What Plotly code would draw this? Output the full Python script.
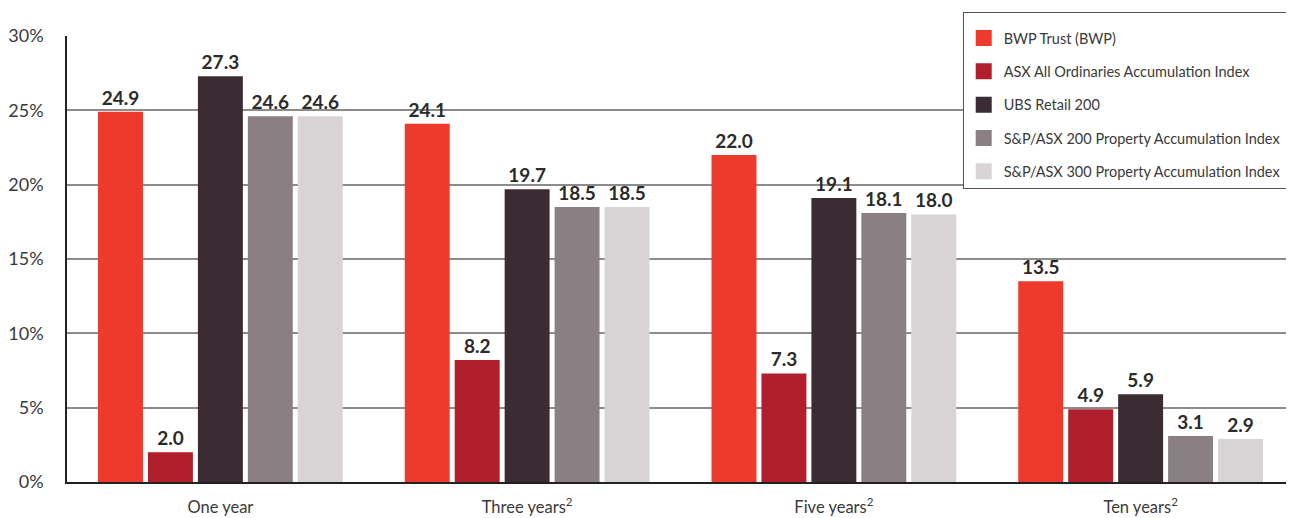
import plotly.graph_objects as go

categories = ["One year", "Three years<sup>2</sup>", "Five years<sup>2</sup>", "Ten years<sup>2</sup>"]
series_names = [
    "BWP Trust (BWP)",
    "ASX All Ordinaries Accumulation Index",
    "UBS Retail 200",
    "S&P/ASX 200 Property Accumulation Index",
    "S&P/ASX 300 Property Accumulation Index",
]
bwp = [24.9, 24.1, 22.0, 13.5]
asx_all_ords = [2.0, 8.2, 7.3, 4.9]
ubs_retail = [27.3, 19.7, 19.1, 5.9]
sp_asx200_prop = [24.6, 18.5, 18.1, 3.1]
sp_asx300_prop = [24.6, 18.5, 18.0, 2.9]
colors = ["#EE3A2C", "#B01F2B", "#3B2B32", "#8A7F82", "#D8D4D5"]
y_ticks = [0, 5, 10, 15, 20, 25, 30]

all_series = [bwp, asx_all_ords, ubs_retail, sp_asx200_prop, sp_asx300_prop]

FONT = "Lato"
fig = go.Figure()
for i, (name, vals, col) in enumerate(zip(series_names, all_series, colors)):
    fig.add_trace(go.Bar(
        x=categories, y=vals, name=name, marker=dict(color=col, line=dict(width=0)),
        text=[f"{v:.1f}" for v in vals], textposition="outside",
        textfont=dict(family=FONT, size=19, color="#2b2b2b", weight="bold"),
        cliponaxis=False, showlegend=False, legendgroup=f"g{i}",
    ))
for i, (name, col) in enumerate(zip(series_names, colors)):
    fig.add_trace(go.Scatter(
        x=[None], y=[None], mode="markers", name=name, legendgroup=f"g{i}",
        marker=dict(symbol="square", size=18, color=col), showlegend=True,
    ))

fig.update_layout(
    width=1286, height=510,
    margin=dict(l=59, r=0, t=28, b=36, autoexpand=False),
    paper_bgcolor="white", plot_bgcolor="white",
    barmode="group", bargap=0.186, bargroupgap=0.1,
    font=dict(family=FONT, color="#3a3a3a"),
    legend=dict(
        x=0.730, y=1.054, xanchor="left", yanchor="top",
        bgcolor="white", bordercolor="#555555", borderwidth=1,
        font=dict(family=FONT, size=14.5, color="#3a3a3a"),
        title=dict(text="\u00a0", font=dict(size=7)),
        traceorder="grouped", tracegroupgap=11.5, itemsizing="trace",
    ),
    xaxis=dict(
        automargin=False,
        showline=True, linecolor="#222222", linewidth=1.5,
        showgrid=False, ticks="", tickfont=dict(family=FONT, size=16.5, color="#3a3a3a"),
        ticklabelstandoff=9,
    ),
    yaxis=dict(
        automargin=False,
        range=[0, 30], tickvals=y_ticks, ticktext=[f"{t}%" for t in y_ticks],
        showline=True, linecolor="#222222", linewidth=1.5,
        showgrid=True, gridcolor="#8c8c8c", gridwidth=1.5,
        zeroline=False, ticks="",
        tickfont=dict(family=FONT, size=18, color="#3a3a3a"),
        ticklabelstandoff=18,
    ),
)

fig.write_html("out.html")
